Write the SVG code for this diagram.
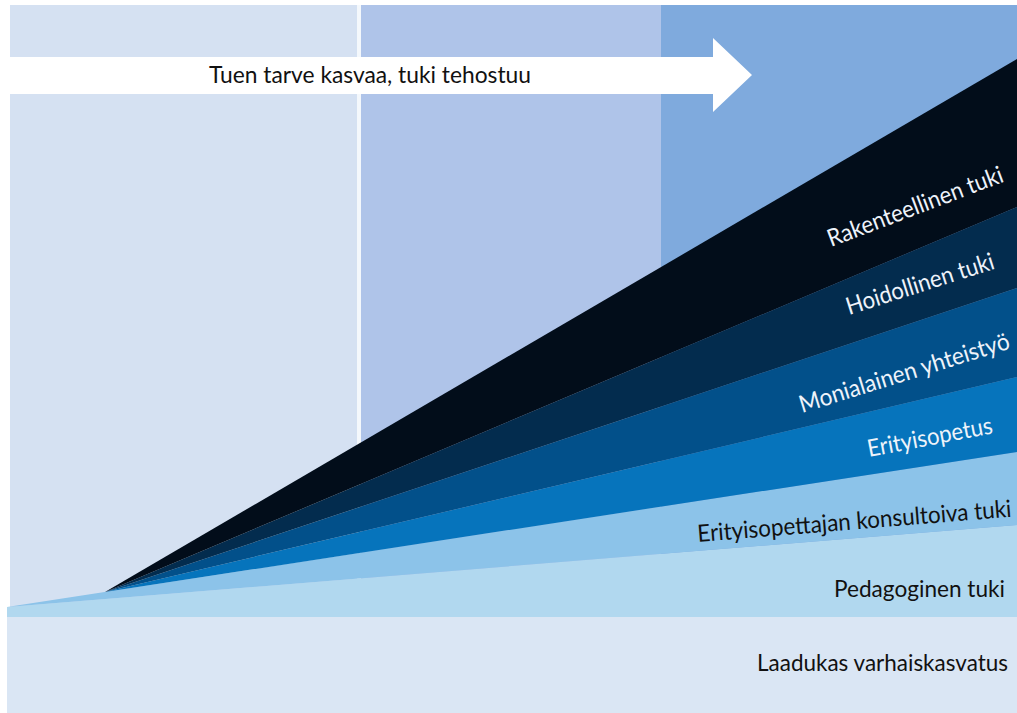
<svg xmlns="http://www.w3.org/2000/svg" width="1017" height="713" viewBox="0 0 1017 713">
  <style>
    .lbl { font-family: Lato, "Noto Sans", "Liberation Sans", sans-serif; font-size: 24px; }
    .light { fill: #EEF3FA; }
    .dark { fill: #111111; }
  </style>
  <rect x="0" y="0" width="1017" height="713" fill="#FFFFFF"/>
  <g id="panels">
    <rect x="10" y="5" width="347" height="612" fill="#D5E1F2"/>
    <rect x="357" y="5" width="4" height="612" fill="#F4F8FC"/>
    <rect x="361" y="5" width="300" height="612" fill="#AFC4E9"/>
    <rect x="661" y="5" width="356" height="612" fill="#7FAADD"/>
  </g>
  <g id="arrow">
    <polygon points="0,57 713,57 713,38 752,75 713,112 713,94 0,94" fill="#FFFFFF"/>
    <text class="lbl dark" x="209" y="83" textLength="322" lengthAdjust="spacingAndGlyphs">Tuen tarve kasvaa, tuki tehostuu</text>
  </g>
  <g id="laadukas">
    <rect x="7" y="617" width="1010" height="96" fill="#DAE6F4"/>
    <text class="lbl dark" x="757" y="671" textLength="251" lengthAdjust="spacingAndGlyphs">Laadukas varhaiskasvatus</text>
  </g>
  <g id="pedagoginen">
    <polygon points="7,607 1017,525 1017,617 7,617" fill="#B1D8EF"/>
    <text class="lbl dark" x="834" y="597" textLength="171" lengthAdjust="spacingAndGlyphs">Pedagoginen tuki</text>
  </g>
  <g id="konsultoiva">
    <polygon points="7,607 1017,452 1017,525" fill="#8CC3E9"/>
    <text class="lbl dark" transform="translate(698,542) rotate(-4.6)" x="0" y="0" textLength="315" lengthAdjust="spacingAndGlyphs">Erityisopettajan konsultoiva tuki</text>
  </g>
  <g id="erityisopetus">
    <polygon points="105,592 1017,377 1017,452" fill="#0674BC"/>
    <text class="lbl light" transform="translate(869,457) rotate(-10.8)" x="0" y="0" textLength="127" lengthAdjust="spacingAndGlyphs">Erityisopetus</text>
  </g>
  <g id="monialainen">
    <polygon points="105,592 1017,288 1017,377" fill="#02508A"/>
    <text class="lbl light" transform="translate(802,413) rotate(-17.2)" x="0" y="0" textLength="219" lengthAdjust="spacingAndGlyphs">Monialainen yhteistyö</text>
  </g>
  <g id="hoidollinen">
    <polygon points="105,592 1017,207 1017,288" fill="#032C4E"/>
    <text class="lbl light" transform="translate(849,315) rotate(-17.6)" x="0" y="0" textLength="154" lengthAdjust="spacingAndGlyphs">Hoidollinen tuki</text>
  </g>
  <g id="rakenteellinen">
    <polygon points="105,592 1017,59 1017,207" fill="#020D1A"/>
    <text class="lbl light" transform="translate(831,247) rotate(-20.7)" x="0" y="0" textLength="186" lengthAdjust="spacingAndGlyphs">Rakenteellinen tuki</text>
  </g>
  <g id="connectors"/>
</svg>
